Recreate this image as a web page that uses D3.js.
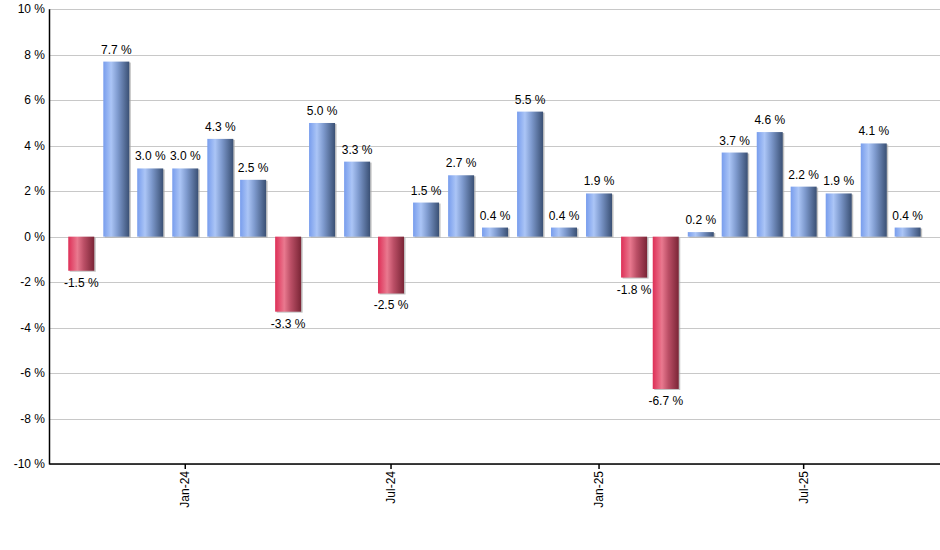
<!DOCTYPE html>
<html><head><meta charset="utf-8">
<script src="https://cdn.jsdelivr.net/npm/d3@7"></script>
<style>body{margin:0;background:#fff;} svg{display:block;font-family:"Liberation Sans",Arial,sans-serif;}</style>
</head><body>
<div id="chart"></div>
<script>
const months = ["2023-10","2023-11","2023-12","2024-01","2024-02","2024-03","2024-04","2024-05","2024-06","2024-07","2024-08","2024-09","2024-10","2024-11","2024-12","2025-01","2025-02","2025-03","2025-04","2025-05","2025-06","2025-07","2025-08","2025-09","2025-10"];
const values = [-1.5,7.7,3.0,3.0,4.3,2.5,-3.3,5.0,3.3,-2.5,1.5,2.7,0.4,5.5,0.4,1.9,-1.8,-6.7,0.2,3.7,4.6,2.2,1.9,4.1,0.4];
const xTickLabels = ["Jan-24","Jul-24","Jan-25","Jul-25"];
const xTickDates = ["2024-01","2024-07","2025-01","2025-07"];
const yTicks = [-10,-8,-6,-4,-2,0,2,4,6,8,10];

(function(){
const W = 940, H = 550;
const pLeft = 49.5, pRight = 940, pTop = 9.3, pBottom = 464;
const parse = d3.timeParse("%Y-%m");
const dates = months.map(parse);
const DAY = 864e5;
const svg = d3.select("#chart").append("svg").attr("width", W).attr("height", H);

const x = d3.scaleTime()
  .domain([new Date(+dates[0] - 28.1*DAY), new Date(+dates[dates.length-1] + 28.6*DAY)])
  .range([pLeft, pRight]);
const y = d3.scaleLinear().domain([-10, 10]).range([pBottom, pTop]);

const defs = svg.append("defs");
function grad(id, stops) {
  const g = defs.append("linearGradient").attr("id", id).attr("x1","0%").attr("x2","100%").attr("y1","0%").attr("y2","0%");
  stops.forEach(s => g.append("stop").attr("offset", s[0]).attr("stop-color", s[1]));
}
grad("gBlue", [["0%","#789ded"],["30%","#abc5f6"],["55%","#7f9bcf"],["100%","#3a5074"]]);
grad("gRed", [["0%","#de2f57"],["35%","#e9798f"],["60%","#bb4f66"],["100%","#7a2536"]]);

svg.append("g").selectAll("line").data(yTicks).join("line")
  .attr("x1", pLeft).attr("x2", pRight)
  .attr("y1", d => Math.round(y(d)) + 0.5).attr("y2", d => Math.round(y(d)) + 0.5)
  .attr("stroke", "#c8c8c8").attr("stroke-width", 1);

svg.append("g").selectAll("text").data(yTicks).join("text")
  .attr("x", 45).attr("y", d => y(d) + 4)
  .attr("text-anchor", "end").attr("font-size", 12).attr("fill", "#000")
  .text(d => d + " %");

const bw = 26;
const bars = svg.append("g");
const y0 = y(0);
bars.selectAll("rect.sh").data(values).join("rect").attr("class","sh")
  .attr("x", (d,i) => x(dates[i]) - bw/2 + 1.5)
  .attr("y", d => d >= 0 ? y(d) + 1 : y0 + 1)
  .attr("width", bw)
  .attr("height", d => Math.abs(y(d) - y0))
  .attr("fill", "#a8a8a8").attr("opacity", 0.7);
bars.selectAll("rect.b").data(values).join("rect").attr("class","b")
  .attr("x", (d,i) => x(dates[i]) - bw/2)
  .attr("y", d => d >= 0 ? y(d) : y0)
  .attr("width", bw)
  .attr("height", d => Math.abs(y(d) - y0))
  .attr("fill", d => d >= 0 ? "url(#gBlue)" : "url(#gRed)");

svg.append("g").selectAll("text").data(values).join("text")
  .attr("x", (d,i) => x(dates[i]))
  .attr("y", d => d >= 0 ? y(d) - 8 : y(d) + 16)
  .attr("text-anchor", "middle").attr("font-size", 12).attr("fill", "#000")
  .text(d => d.toFixed(1) + " %");

svg.append("line").attr("x1", pLeft).attr("x2", pLeft).attr("y1", pTop).attr("y2", pBottom + 0.5)
  .attr("stroke", "#000").attr("stroke-width", 1.5);
svg.append("line").attr("x1", pLeft).attr("x2", pRight).attr("y1", pBottom).attr("y2", pBottom)
  .attr("stroke", "#000").attr("stroke-width", 1.5);

const xt = svg.append("g").selectAll("g").data(xTickDates).join("g")
  .attr("transform", d => `translate(${x(parse(d))},${pBottom})`);
xt.append("line").attr("y1", 0).attr("y2", 5).attr("stroke", "#000").attr("stroke-width", 1.5);
xt.append("text").attr("transform", "rotate(-90)").attr("x", -7).attr("y", 4)
  .attr("text-anchor", "end").attr("font-size", 12).attr("fill", "#000")
  .text((d,i) => xTickLabels[i]);
})();
</script>
</body></html>
